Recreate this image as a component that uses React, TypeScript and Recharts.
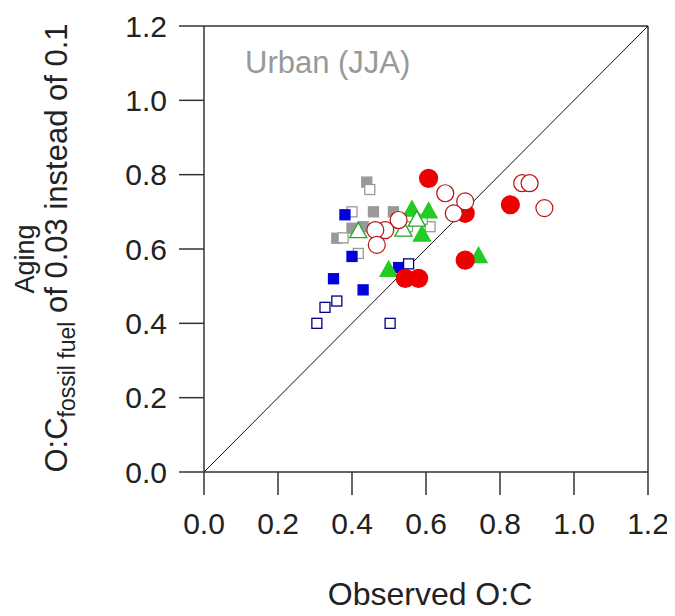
import React from "react";
import {
  ScatterChart,
  Scatter,
  XAxis,
  YAxis,
  ReferenceLine,
} from "recharts";

type P = { x: number; y: number };

const axisTicks = [0, 0.2, 0.4, 0.6, 0.8, 1.0, 1.2];

const grayFilled: P[] = [
  { x: 0.44, y: 0.78 },
  { x: 0.458, y: 0.70 },
  { x: 0.512, y: 0.70 },
  { x: 0.359, y: 0.629 },
  { x: 0.40, y: 0.656 },
  { x: 0.43, y: 0.66 },
];
const grayOpen: P[] = [
  { x: 0.448, y: 0.76 },
  { x: 0.40, y: 0.70 },
  { x: 0.376, y: 0.63 },
  { x: 0.417, y: 0.588 },
  { x: 0.611, y: 0.66 },
  { x: 0.59, y: 0.68 },
  { x: 0.55, y: 0.66 },
  { x: 0.52, y: 0.67 },
];
const blueFilled: P[] = [
  { x: 0.381, y: 0.692 },
  { x: 0.40, y: 0.58 },
  { x: 0.35, y: 0.52 },
  { x: 0.43, y: 0.49 },
  { x: 0.526, y: 0.55 },
];
const blueOpen: P[] = [
  { x: 0.553, y: 0.56 },
  { x: 0.359, y: 0.46 },
  { x: 0.327, y: 0.443 },
  { x: 0.305, y: 0.40 },
  { x: 0.503, y: 0.40 },
];
const greenFilled: P[] = [
  { x: 0.562, y: 0.705 },
  { x: 0.607, y: 0.70 },
  { x: 0.589, y: 0.638 },
  { x: 0.499, y: 0.543 },
  { x: 0.742, y: 0.58 },
];
const greenOpen: P[] = [
  { x: 0.417, y: 0.647 },
  { x: 0.539, y: 0.651 },
  { x: 0.575, y: 0.678 },
];
const redFilled: P[] = [
  { x: 0.607, y: 0.79 },
  { x: 0.544, y: 0.521 },
  { x: 0.58, y: 0.521 },
  { x: 0.706, y: 0.696 },
  { x: 0.828, y: 0.719 },
  { x: 0.706, y: 0.57 },
];
const redOpen: P[] = [
  { x: 0.652, y: 0.75 },
  { x: 0.706, y: 0.728 },
  { x: 0.675, y: 0.696 },
  { x: 0.526, y: 0.678 },
  { x: 0.49, y: 0.651 },
  { x: 0.463, y: 0.651 },
  { x: 0.467, y: 0.611 },
  { x: 0.86, y: 0.777 },
  { x: 0.88, y: 0.777 },
  { x: 0.92, y: 0.71 },
];

const FONT = "'Liberation Sans', Arial, sans-serif";

const square = (fill: string, stroke: string, size: number) => (props: any) => {
  const { cx, cy } = props;
  if (cx == null || cy == null) return <g />;
  return (
    <rect
      x={cx - size / 2}
      y={cy - size / 2}
      width={size}
      height={size}
      fill={fill}
      stroke={stroke}
      strokeWidth={1.3}
    />
  );
};

const circle = (fill: string, stroke: string, r: number) => (props: any) => {
  const { cx, cy } = props;
  if (cx == null || cy == null) return <g />;
  return <circle cx={cx} cy={cy} r={r} fill={fill} stroke={stroke} strokeWidth={1.2} />;
};

const triangle = (fill: string, stroke: string, s: number) => (props: any) => {
  const { cx, cy } = props;
  if (cx == null || cy == null) return <g />;
  const h = s * 0.9;
  const pts = `${cx},${cy - h * 0.6} ${cx - s / 2},${cy + h * 0.4} ${cx + s / 2},${cy + h * 0.4}`;
  return <polygon points={pts} fill={fill} stroke={stroke} strokeWidth={1.3} />;
};

const XTick = (props: any) => {
  const { x, y, payload } = props;
  return (
    <text x={x} y={y} dy="0.71em" textAnchor="middle" fontSize={30} fill="#222" fontFamily={FONT}>
      {Number(payload.value).toFixed(1)}
    </text>
  );
};

const YTick = (props: any) => {
  const { x, y, payload } = props;
  return (
    <text x={x} y={y} dy="0.355em" textAnchor="end" fontSize={30} fill="#222" fontFamily={FONT}>
      {Number(payload.value).toFixed(1)}
    </text>
  );
};

export default function App() {
  const W = 667;
  const H = 608;
  return (
    <div style={{ position: "relative", width: W, height: H }}>
      <ScatterChart
        width={W}
        height={H}
        margin={{ top: 18, right: 27, left: 0, bottom: 0 }}
      >
        <XAxis
          type="number"
          dataKey="x"
          domain={[0, 1.2]}
          ticks={axisTicks}
          allowDataOverflow
          height={144}
          tickSize={23}
          tickMargin={18}
          stroke="#333"
          strokeWidth={1.5}
          tick={<XTick />}
        />
        <YAxis
          type="number"
          dataKey="y"
          domain={[0, 1.2]}
          ticks={axisTicks}
          allowDataOverflow
          width={196}
          tickSize={25}
          tickMargin={12}
          stroke="#333"
          strokeWidth={1.5}
          tick={<YTick />}
        />
        <ReferenceLine y={1.2} stroke="#333" strokeWidth={1.5} />
        <ReferenceLine x={1.2} stroke="#333" strokeWidth={1.5} />
        <ReferenceLine
          segment={[
            { x: 0, y: 0 },
            { x: 1.2, y: 1.2 },
          ]}
          stroke="#111"
          strokeWidth={1}
        />
        <Scatter data={grayFilled} isAnimationActive={false} shape={square("#999999", "#999999", 10)} />
        <Scatter data={grayOpen} isAnimationActive={false} shape={square("#ffffff", "#999999", 10)} />
        <Scatter data={blueFilled} isAnimationActive={false} shape={square("#0000dd", "#0000dd", 10)} />
        <Scatter data={blueOpen} isAnimationActive={false} shape={square("#ffffff", "#000080", 10)} />
        <Scatter data={greenFilled} isAnimationActive={false} shape={triangle("#22cc22", "#22cc22", 17)} />
        <Scatter data={greenOpen} isAnimationActive={false} shape={triangle("#ffffff", "#22aa22", 17)} />
        <Scatter data={redFilled} isAnimationActive={false} shape={circle("#ee0000", "#ee0000", 9)} />
        <Scatter data={redOpen} isAnimationActive={false} shape={circle("#ffffff", "#bb1111", 8.5)} />
      </ScatterChart>
      <svg
        width={W}
        height={H}
        style={{ position: "absolute", left: 0, top: 0, pointerEvents: "none" }}
      >
        <text x={237} y={65} fontSize={31} fill="#999999" fontFamily={FONT}>
          Urban (JJA)
        </text>
        <text x={422} y={597} fontSize={32} fill="#222" textAnchor="middle" fontFamily={FONT}>
          Observed O:C
        </text>
        <text
          transform="translate(26,251) rotate(-90)"
          fontSize={27}
          fill="#222"
          textAnchor="middle"
          fontFamily={FONT}
        >
          Aging
        </text>
        <text
          transform="translate(59,240) rotate(-90)"
          fontSize={31}
          fill="#222"
          textAnchor="middle"
          fontFamily={FONT}
        >
          <tspan>O:C</tspan>
          <tspan fontSize={23} dy={8}>fossil fuel</tspan>
          <tspan dy={-8}> of 0.03 instead of 0.1</tspan>
        </text>
      </svg>
    </div>
  );
}
